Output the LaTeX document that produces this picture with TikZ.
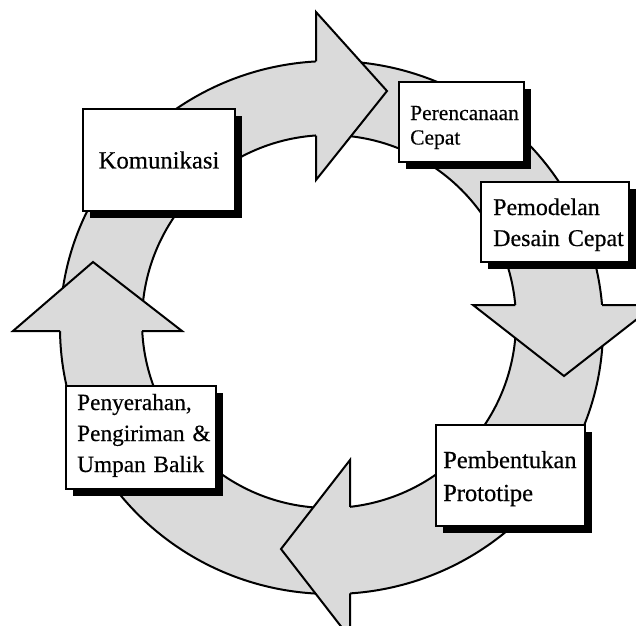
\documentclass[tikz,border=0pt]{standalone}
\usepackage{fontspec}
\setmainfont{Liberation Serif}[FakeBold=0.4]
\usetikzlibrary{shadows}
\definecolor{ringgray}{RGB}{218,218,218}
\begin{document}
\begin{tikzpicture}[x=1pt,y=-1pt,
  ringline/.style={draw=black, line width=2pt, line join=miter},
  stagebox/.style={draw=black, fill=white, line width=1.8pt, inner sep=0pt,
    drop shadow={shadow xshift=7pt, shadow yshift=-7pt, fill=black, opacity=1}},
  stagetext/.style={inner sep=0pt, align=left, text width=150pt, anchor=base west}]
\clip (0,0) rectangle (636,625);

% ring body
\fill[ringgray, even odd rule]
  (331.5,327.5) ellipse [x radius=271.5pt, y radius=266.5pt]
  (329,321.5) ellipse [x radius=187pt, y radius=186.5pt];
\draw[ringline] (331.5,327.5) ellipse [x radius=271.5pt, y radius=266.5pt];
\draw[ringline] (329,321.5) ellipse [x radius=187pt, y radius=186.5pt];

% arrow head at the top, pointing right
\fill[ringgray] (316,12) -- (387,91) -- (316,180) -- cycle;
\draw[ringline] (316,61.4) -- (316,12) -- (387,91) -- (316,180) -- (316,135.5);

% arrow head on the right, pointing down
\fill[ringgray] (473,305) -- (564,376) -- (655,305) -- cycle;
\draw[ringline] (515.3,305) -- (473,305) -- (564,376) -- (655,305) -- (602,305);

% arrow head at the bottom, pointing left
\fill[ringgray] (350,460) -- (281,549) -- (350,638) -- cycle;
\draw[ringline] (350,506.8) -- (350,460) -- (281,549) -- (350,638) -- (350,593.4);

% arrow head on the left, pointing up
\fill[ringgray] (13,331) -- (93,262) -- (182,331) -- cycle;
\draw[ringline] (60,331) -- (13,331) -- (93,262) -- (182,331) -- (142.2,331);

% stage boxes
\node[stagebox, minimum width=152pt, minimum height=102pt,
  font=\fontsize{24.7}{30}\selectfont] (kom) at (159,160) {Komunikasi};
\node[stagebox, minimum width=125pt, minimum height=80pt] (ren) at (461.5,122) {};
\node[stagebox, minimum width=148pt, minimum height=80pt] (mod) at (555,222) {};
\node[stagebox, minimum width=149pt, minimum height=101pt] (pro) at (510.5,475.5) {};
\node[stagebox, minimum width=150pt, minimum height=103pt] (ser) at (141,437.5) {};

% stage labels
\node[stagetext, font=\fontsize{21.5}{24.5}\selectfont] (renT) at (410,120)
  {Perencanaan\\Cepat};
\node[stagetext, font=\fontsize{24}{31}\selectfont] (modT) at (493,215)
  {Pemodelan\\Desain Cepat};
\node[stagetext, font=\fontsize{24.5}{33}\selectfont] (proT) at (443,468)
  {Pembentukan\\Prototipe};
\node[stagetext, font=\fontsize{23.3}{31}\selectfont] (serT) at (77,410)
  {Penyerahan,\\Pengiriman \&\\Umpan Balik};
\end{tikzpicture}
\end{document}
